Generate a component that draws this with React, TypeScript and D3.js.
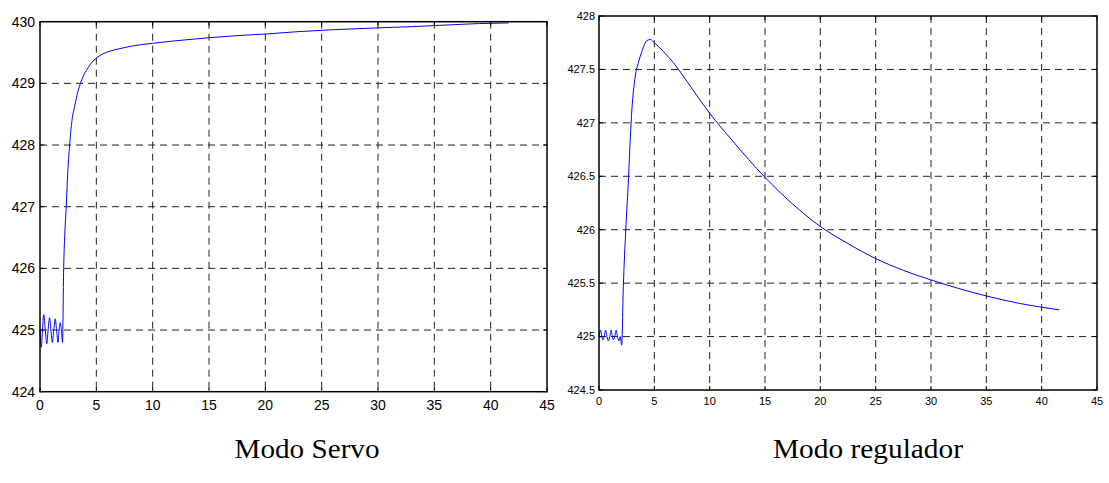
import React from "react";
import * as d3 from "d3";

// Modo Servo series
const servoT = [0, 0.05, 0.12, 0.22, 0.33, 0.47, 0.6, 0.72, 0.85, 0.97, 1.1, 1.22, 1.35, 1.47, 1.6, 1.7, 1.8, 1.9, 2.0, 2.1, 2.2, 2.33, 2.45, 2.63, 2.84, 3.1, 3.3, 3.55, 3.9, 4.3, 4.6, 5.0, 5.5, 6.0, 7.0, 8.0, 10.0, 12.0, 15.0, 18.0, 20.0, 23.0, 26.0, 30.0, 33.0, 36.5, 39.0, 41.6];
const servoY = [425.0, 424.8, 424.72, 425.0, 425.25, 425.0, 424.78, 425.0, 425.2, 425.0, 424.8, 425.0, 425.18, 425.0, 424.8, 425.0, 425.12, 425.0, 424.8, 426.0, 426.55, 427.0, 427.5, 428.0, 428.4, 428.65, 428.82, 428.98, 429.14, 429.26, 429.34, 429.41, 429.47, 429.51, 429.56, 429.6, 429.65, 429.69, 429.74, 429.78, 429.8, 429.84, 429.87, 429.9, 429.92, 429.95, 429.97, 429.98];

// Modo regulador series
const regT = [0, 0.15, 0.25, 0.35, 0.47, 0.6, 0.72, 0.85, 0.97, 1.1, 1.2, 1.3, 1.42, 1.55, 1.67, 1.8, 1.92, 2.05, 2.2, 2.42, 2.67, 2.82, 2.97, 3.27, 3.58, 3.88, 4.33, 4.64, 5.0, 5.7, 6.9, 8.0, 10.0, 12.0, 15.0, 17.5, 20.0, 22.5, 25.0, 27.5, 30.0, 32.5, 35.0, 38.0, 41.6];
const regY = [425.0, 425.06, 425.0, 424.97, 425.0, 425.06, 425.0, 424.96, 425.0, 425.06, 425.0, 424.97, 425.0, 425.06, 425.0, 424.96, 425.0, 424.92, 425.47, 426.0, 426.49, 426.84, 427.12, 427.43, 427.57, 427.67, 427.77, 427.78, 427.75, 427.68, 427.54, 427.38, 427.09, 426.84, 426.49, 426.24, 426.03, 425.87, 425.73, 425.62, 425.53, 425.45, 425.38, 425.31, 425.25];

const xTicks = [0, 5, 10, 15, 20, 25, 30, 35, 40, 45];
const servoYTicks = [424, 425, 426, 427, 428, 429, 430];
const regYTicks = [424.5, 425, 425.5, 426, 426.5, 427, 427.5, 428];

type PanelProps = {
  left: number; right: number; top: number; bottom: number;
  t: number[]; y: number[]; yTicks: number[]; yDomain: [number, number];
  fontSize: number; xLabelBaseline: number; yLabelGap: number;
};

function Panel(p: PanelProps) {
  const x = d3.scaleLinear().domain([0, 45]).range([p.left, p.right]);
  const y = d3.scaleLinear().domain(p.yDomain).range([p.bottom, p.top]);
  const line = d3.line<number>().x((_, i) => x(p.t[i])).y((d) => y(d)).curve(d3.curveMonotoneX);
  const path = line(p.y) || "";
  return (
    <g>
      {xTicks.slice(1, -1).map((v) => (
        <line key={"gx" + v} x1={x(v)} x2={x(v)} y1={p.top} y2={p.bottom} stroke="#222" strokeWidth={1} strokeDasharray="7,5" />
      ))}
      {p.yTicks.slice(1, -1).map((v) => (
        <line key={"gy" + v} x1={p.left} x2={p.right} y1={y(v)} y2={y(v)} stroke="#222" strokeWidth={1} strokeDasharray="7,5" />
      ))}
      {xTicks.map((v) => (
        <g key={"tx" + v}>
          <line x1={x(v)} x2={x(v)} y1={p.bottom} y2={p.bottom - 4} stroke="#000" />
          <line x1={x(v)} x2={x(v)} y1={p.top} y2={p.top + 4} stroke="#000" />
          <text x={x(v)} y={p.xLabelBaseline} textAnchor="middle" fontFamily="Liberation Sans, Arial, sans-serif" fontSize={p.fontSize}>{v}</text>
        </g>
      ))}
      {p.yTicks.map((v) => (
        <g key={"ty" + v}>
          <line x1={p.left} x2={p.left + 4} y1={y(v)} y2={y(v)} stroke="#000" />
          <line x1={p.right} x2={p.right - 4} y1={y(v)} y2={y(v)} stroke="#000" />
          <text x={p.left - p.yLabelGap} y={y(v)} dy="0.35em" textAnchor="end" fontFamily="Liberation Sans, Arial, sans-serif" fontSize={p.fontSize}>{String(v)}</text>
        </g>
      ))}
      <path d={path} fill="none" stroke="#0000ff" strokeWidth={1} />
      <rect x={p.left} y={p.top} width={p.right - p.left} height={p.bottom - p.top} fill="none" stroke="#000" strokeWidth={1.5} />
    </g>
  );
}

export default function App() {
  return (
    <svg width={1109} height={483} style={{ position: "absolute", left: 0, top: 0, background: "#fff" }}>
      <rect x={0} y={0} width={1109} height={483} fill="#fff" />
      <Panel left={40} right={547} top={21.7} bottom={391.7} t={servoT} y={servoY} yTicks={servoYTicks} yDomain={[424, 430]} fontSize={14} xLabelBaseline={410} yLabelGap={5} />
      <Panel left={599} right={1097} top={16} bottom={390} t={regT} y={regY} yTicks={regYTicks} yDomain={[424.5, 428]} fontSize={11} xLabelBaseline={405} yLabelGap={4} />
      <text x={307} y={458} textAnchor="middle" fontFamily="Liberation Serif, Times New Roman, serif" fontSize={27} textLength={145} lengthAdjust="spacingAndGlyphs">Modo Servo</text>
      <text x={868} y={458} textAnchor="middle" fontFamily="Liberation Serif, Times New Roman, serif" fontSize={27} textLength={190} lengthAdjust="spacingAndGlyphs">Modo regulador</text>
    </svg>
  );
}
